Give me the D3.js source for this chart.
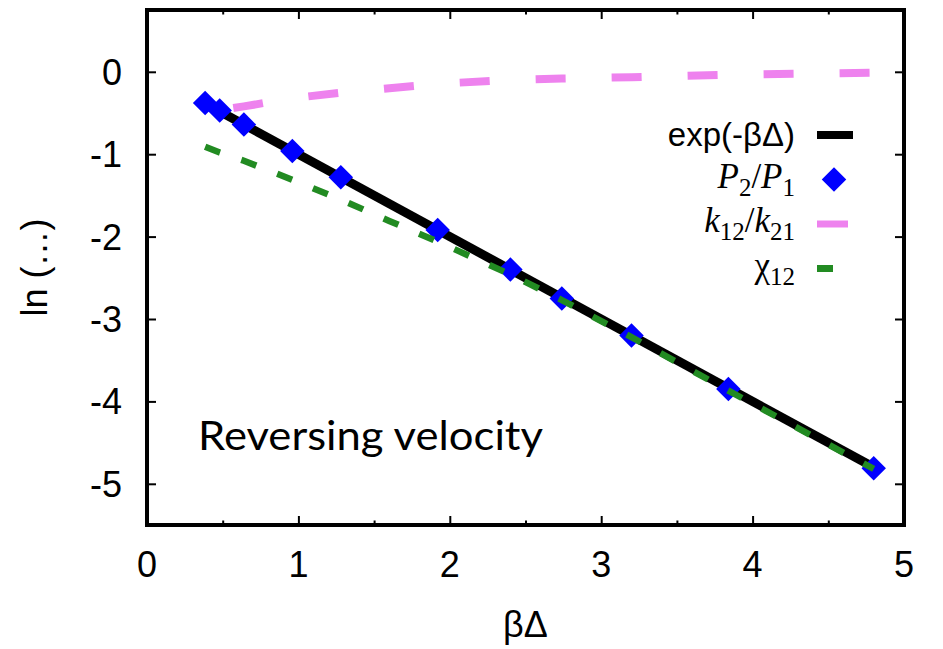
<!DOCTYPE html>
<html><head><meta charset="utf-8">
<script src="https://cdn.jsdelivr.net/npm/d3@7"></script>
<style>body{margin:0;background:#fff}svg{display:block}</style>
</head><body>
<svg id="c" width="943" height="649"></svg>
<script>
// ---- data ----
const lineX = [0.384, 4.8];                 // exp(-βΔ) => ln = -βΔ
const lineY = [-0.384, -4.8];
const ptsX  = [0.384, 0.48, 0.64, 0.96, 1.28, 1.92, 2.40, 2.74, 3.20, 3.84, 4.80];
const ptsY  = [-0.38, -0.47, -0.64, -0.96, -1.28, -1.92, -2.40, -2.75, -3.20, -3.85, -4.81];
const kX    = [0.57, 0.64, 0.96, 1.28, 1.92, 2.40, 2.74, 3.20, 3.84, 4.80];
const kY    = [-0.44, -0.42, -0.32, -0.255, -0.145, -0.10, -0.082, -0.066, -0.035, -0.012];
const chiX  = [0.384, 0.48, 0.64, 0.96, 1.28, 1.60, 1.92, 2.40, 2.74, 3.20, 3.84, 4.80];
const chiY  = [-0.91, -0.98, -1.08, -1.31, -1.55, -1.81, -2.06, -2.46, -2.77, -3.22, -3.87, -4.82];
const xTicks = [0, 1, 2, 3, 4, 5];
const xMinor = [0.5, 1.5, 2.5, 3.5, 4.5];
const yTicks = [0, -1, -2, -3, -4, -5];
const legendLabels = ["exp(-βΔ)", "P2/P1", "k12/k21", "χ12"];

// ---- layout ----
const L = 147, R = 904, T = 10, B = 525;
const svg = d3.select("#c");
const x = d3.scaleLinear().domain([0, 5]).range([L, R]);
const y = d3.scaleLinear().domain([-5.5, 0.75]).range([B, T]);
const sans = "'Liberation Sans', Arial, sans-serif";
const serif = "'Liberation Serif', 'Times New Roman', serif";

// axes (ticks inward, mirrored)
function tickAxis(axisGen, tx, ty) {
  const g = svg.append("g").attr("transform", `translate(${tx},${ty})`).call(axisGen);
  g.select(".domain").remove();
  g.selectAll("line").attr("stroke", "#000").attr("stroke-width", 2);
  g.selectAll("text").remove();
  return g;
}
tickAxis(d3.axisBottom(x).tickValues(xTicks).tickSize(-9), 0, B);
tickAxis(d3.axisBottom(x).tickValues(xMinor).tickSize(-4.5), 0, B);
tickAxis(d3.axisTop(x).tickValues(xTicks).tickSize(-9), 0, T);
tickAxis(d3.axisTop(x).tickValues(xMinor).tickSize(-4.5), 0, T);
tickAxis(d3.axisLeft(y).tickValues(yTicks).tickSize(-9), L, 0);
tickAxis(d3.axisRight(y).tickValues(yTicks).tickSize(-9), R, 0);

// tick labels
svg.append("g").selectAll("text").data(xTicks).join("text")
  .attr("x", d => x(d)).attr("y", 577).attr("text-anchor", "middle")
  .attr("font-family", sans).attr("font-size", 36).text(d => d);
svg.append("g").selectAll("text").data(yTicks).join("text")
  .attr("x", 122).attr("y", d => y(d) + 13).attr("text-anchor", "end")
  .attr("font-family", sans).attr("font-size", 36).text(d => d);

// axis titles
svg.append("text").attr("transform", `translate(47,${(T + B) / 2}) rotate(-90)`)
  .attr("text-anchor", "middle").attr("font-family", sans).attr("font-size", 36).text("ln (…)");
svg.append("text").attr("x", (L + R) / 2).attr("y", 637).attr("text-anchor", "middle")
  .attr("font-family", sans).attr("font-size", 36).text("βΔ");

// series
const line = d3.line().x(d => x(d[0])).y(d => y(d[1]));
const plot = svg.append("g");
plot.append("path").datum(d3.zip(lineX, lineY)).attr("d", line)
  .attr("fill", "none").attr("stroke", "#000").attr("stroke-width", 9);
const diamond = d3.symbol().type(d3.symbolSquare).size(300);
plot.selectAll(".pt").data(d3.zip(ptsX, ptsY)).join("path").attr("class", "pt")
  .attr("d", diamond).attr("transform", d => `translate(${x(d[0])},${y(d[1])}) rotate(45)`)
  .attr("fill", "#0000ff");
plot.append("path").datum(d3.zip(kX, kY)).attr("d", line)
  .attr("fill", "none").attr("stroke", "#ee82ee").attr("stroke-width", 8)
  .attr("stroke-dasharray", "30,46");
plot.append("path").datum(d3.zip(chiX, chiY)).attr("d", line)
  .attr("fill", "none").attr("stroke", "#228b22").attr("stroke-width", 6.5)
  .attr("stroke-dasharray", "16,22.5");

// frame
svg.append("rect").attr("x", L).attr("y", T).attr("width", R - L).attr("height", B - T)
  .attr("fill", "none").attr("stroke", "#000").attr("stroke-width", 4);

// annotation
svg.append("text").attr("x", 198).attr("y", 450).attr("font-family", "Lato, 'Open Sans', sans-serif")
  .attr("font-size", 41).attr("textLength", 345).attr("lengthAdjust", "spacingAndGlyphs")
  .text("Reversing velocity");

// legend
const lg = svg.append("g");
const rows = [135, 179.5, 224, 268.5];
const tx = 795, sx0 = 817, sx1 = 853;
// row 1
lg.append("text").attr("x", tx).attr("y", rows[0] + 11).attr("text-anchor", "end")
  .attr("font-family", sans).attr("font-size", 33).text(legendLabels[0]);
lg.append("line").attr("x1", sx0).attr("x2", sx1).attr("y1", rows[0]).attr("y2", rows[0])
  .attr("stroke", "#000").attr("stroke-width", 8);
// rows 2-4 (serif with subscripts)
const FS = 35, SS = 25, DY = 8;
function mathLabel(yy, parts) {
  const t = lg.append("text").attr("x", tx).attr("y", yy).attr("text-anchor", "end")
    .attr("font-family", serif).attr("font-size", FS);
  parts.forEach(p => {
    const s = t.append("tspan").text(p.t);
    if (p.i) s.attr("font-style", "italic");
    if (p.sub) s.attr("font-size", SS).attr("dy", DY);
    if (p.up) s.attr("dy", -DY);
  });
}
mathLabel(rows[1] + 8, [{t: "P", i: 1}, {t: "2", sub: 1}, {t: "/", up: 1}, {t: "P", i: 1}, {t: "1", sub: 1}]);
lg.append("path").attr("d", diamond).attr("transform", `translate(834,${rows[1]}) rotate(45)`).attr("fill", "#0000ff");
mathLabel(rows[2] + 8, [{t: "k", i: 1}, {t: "12", sub: 1}, {t: "/", up: 1}, {t: "k", i: 1}, {t: "21", sub: 1}]);
lg.append("line").attr("x1", sx0).attr("x2", sx1).attr("y1", rows[2]).attr("y2", rows[2])
  .attr("stroke", "#ee82ee").attr("stroke-width", 7).attr("stroke-dasharray", "31,46");
mathLabel(rows[3] + 8, [{t: "χ"}, {t: "12", sub: 1}]);
lg.append("line").attr("x1", sx0).attr("x2", sx1).attr("y1", rows[3]).attr("y2", rows[3])
  .attr("stroke", "#228b22").attr("stroke-width", 7).attr("stroke-dasharray", "16,22.5");
</script>
</body></html>
